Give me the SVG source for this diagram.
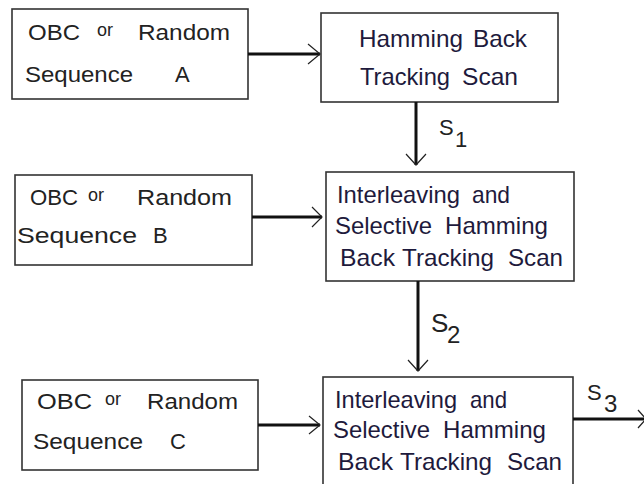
<svg xmlns="http://www.w3.org/2000/svg" width="644" height="484" viewBox="0 0 644 484">
  <style>
    .box { fill: #ffffff; stroke: #333333; stroke-width: 1.6; }
    .src { font-family: "Liberation Sans", Arial, sans-serif; font-size: 22px; fill: #222222; }
    .small { font-size: 18px; }
    .proc { font-family: "Liberation Sans", Arial, sans-serif; font-size: 24px; fill: #1e1a3c; }
    .lbl { font-family: "Liberation Sans", Arial, sans-serif; fill: #222222; }
    .wire { stroke: #111111; stroke-width: 3; fill: none; }
    .head { stroke: #222222; stroke-width: 1.2; fill: none; }
  </style>
  <rect width="644" height="484" fill="#ffffff"/>

  <!-- source A -->
  <g id="srcA">
    <rect class="box" x="12" y="9" width="236" height="90"/>
    <text class="src" x="28" y="40" textLength="52" lengthAdjust="spacingAndGlyphs">OBC</text>
    <text class="src small" x="97" y="36">or</text>
    <text class="src" x="138" y="40" textLength="92" lengthAdjust="spacingAndGlyphs">Random</text>
    <text class="src" x="25" y="82" textLength="108" lengthAdjust="spacingAndGlyphs">Sequence</text>
    <text class="src" x="175" y="82">A</text>
  </g>

  <!-- first scan stage -->
  <g id="hbts">
    <rect class="box" x="321" y="13" width="237" height="89"/>
    <text class="proc" x="359" y="47" textLength="104" lengthAdjust="spacingAndGlyphs">Hamming</text>
    <text class="proc" x="473" y="47" textLength="54" lengthAdjust="spacingAndGlyphs">Back</text>
    <text class="proc" x="360" y="85" textLength="90" lengthAdjust="spacingAndGlyphs">Tracking</text>
    <text class="proc" x="462" y="85" textLength="56" lengthAdjust="spacingAndGlyphs">Scan</text>
  </g>

  <!-- source B -->
  <g id="srcB">
    <rect class="box" x="15" y="175" width="237" height="90"/>
    <text class="src" x="30" y="205" textLength="48" lengthAdjust="spacingAndGlyphs">OBC</text>
    <text class="src small" x="88" y="201">or</text>
    <text class="src" x="137" y="205" textLength="95" lengthAdjust="spacingAndGlyphs">Random</text>
    <text class="src" x="17" y="243" textLength="120" lengthAdjust="spacingAndGlyphs">Sequence</text>
    <text class="src" x="153" y="243">B</text>
  </g>

  <!-- second scan stage -->
  <g id="ishbts1">
    <rect class="box" x="326" y="172" width="248" height="109"/>
    <text class="proc" x="337" y="203" textLength="123" lengthAdjust="spacingAndGlyphs">Interleaving</text>
    <text class="proc" x="472" y="203" textLength="38" lengthAdjust="spacingAndGlyphs">and</text>
    <text class="proc" x="335" y="234" textLength="97" lengthAdjust="spacingAndGlyphs">Selective</text>
    <text class="proc" x="445" y="234" textLength="103" lengthAdjust="spacingAndGlyphs">Hamming</text>
    <text class="proc" x="340" y="266" textLength="55" lengthAdjust="spacingAndGlyphs">Back</text>
    <text class="proc" x="402" y="266" textLength="92" lengthAdjust="spacingAndGlyphs">Tracking</text>
    <text class="proc" x="508" y="266" textLength="55" lengthAdjust="spacingAndGlyphs">Scan</text>
  </g>

  <!-- source C -->
  <g id="srcC">
    <rect class="box" x="22" y="380" width="236" height="90"/>
    <text class="src" x="37" y="409" textLength="55" lengthAdjust="spacingAndGlyphs">OBC</text>
    <text class="src small" x="105" y="405">or</text>
    <text class="src" x="147" y="409" textLength="91" lengthAdjust="spacingAndGlyphs">Random</text>
    <text class="src" x="33" y="449" textLength="110" lengthAdjust="spacingAndGlyphs">Sequence</text>
    <text class="src" x="170" y="449">C</text>
  </g>

  <!-- third scan stage -->
  <g id="ishbts2">
    <rect class="box" x="323" y="377" width="250" height="130"/>
    <text class="proc" x="335" y="408" textLength="122" lengthAdjust="spacingAndGlyphs">Interleaving</text>
    <text class="proc" x="470" y="408" textLength="37" lengthAdjust="spacingAndGlyphs">and</text>
    <text class="proc" x="333" y="438" textLength="97" lengthAdjust="spacingAndGlyphs">Selective</text>
    <text class="proc" x="443" y="438" textLength="103" lengthAdjust="spacingAndGlyphs">Hamming</text>
    <text class="proc" x="338" y="470" textLength="55" lengthAdjust="spacingAndGlyphs">Back</text>
    <text class="proc" x="400" y="470" textLength="92" lengthAdjust="spacingAndGlyphs">Tracking</text>
    <text class="proc" x="507" y="470" textLength="55" lengthAdjust="spacingAndGlyphs">Scan</text>
  </g>

  <!-- connectors -->
  <g id="connectors">
    <line class="wire" x1="248" y1="54" x2="320" y2="54"/>
    <polyline class="head" points="308,44 320,54 308,64"/>

    <line class="wire" x1="252" y1="217" x2="322" y2="217"/>
    <polyline class="head" points="312,207 322,217 312,227"/>

    <line class="wire" x1="258" y1="425" x2="320" y2="425"/>
    <polyline class="head" points="309,416 320,425 309,434"/>

    <line class="wire" x1="416" y1="102" x2="416" y2="165"/>
    <polyline class="head" points="406,154 416,165 426,154"/>

    <line class="wire" x1="418" y1="281" x2="418" y2="371"/>
    <polyline class="head" points="408,360 418,371 428,360"/>

    <line class="wire" x1="573" y1="419" x2="644" y2="419"/>
    <polyline class="head" points="638,410 646,419 638,428"/>

    <text class="lbl" x="439" y="135" font-size="22">S</text>
    <text class="lbl" x="455" y="147" font-size="22">1</text>
    <text class="lbl" x="431" y="332" font-size="26">S</text>
    <text class="lbl" x="447" y="343" font-size="24">2</text>
    <text class="lbl" x="587" y="400" font-size="22">S</text>
    <text class="lbl" x="604" y="412" font-size="24">3</text>
  </g>
</svg>
